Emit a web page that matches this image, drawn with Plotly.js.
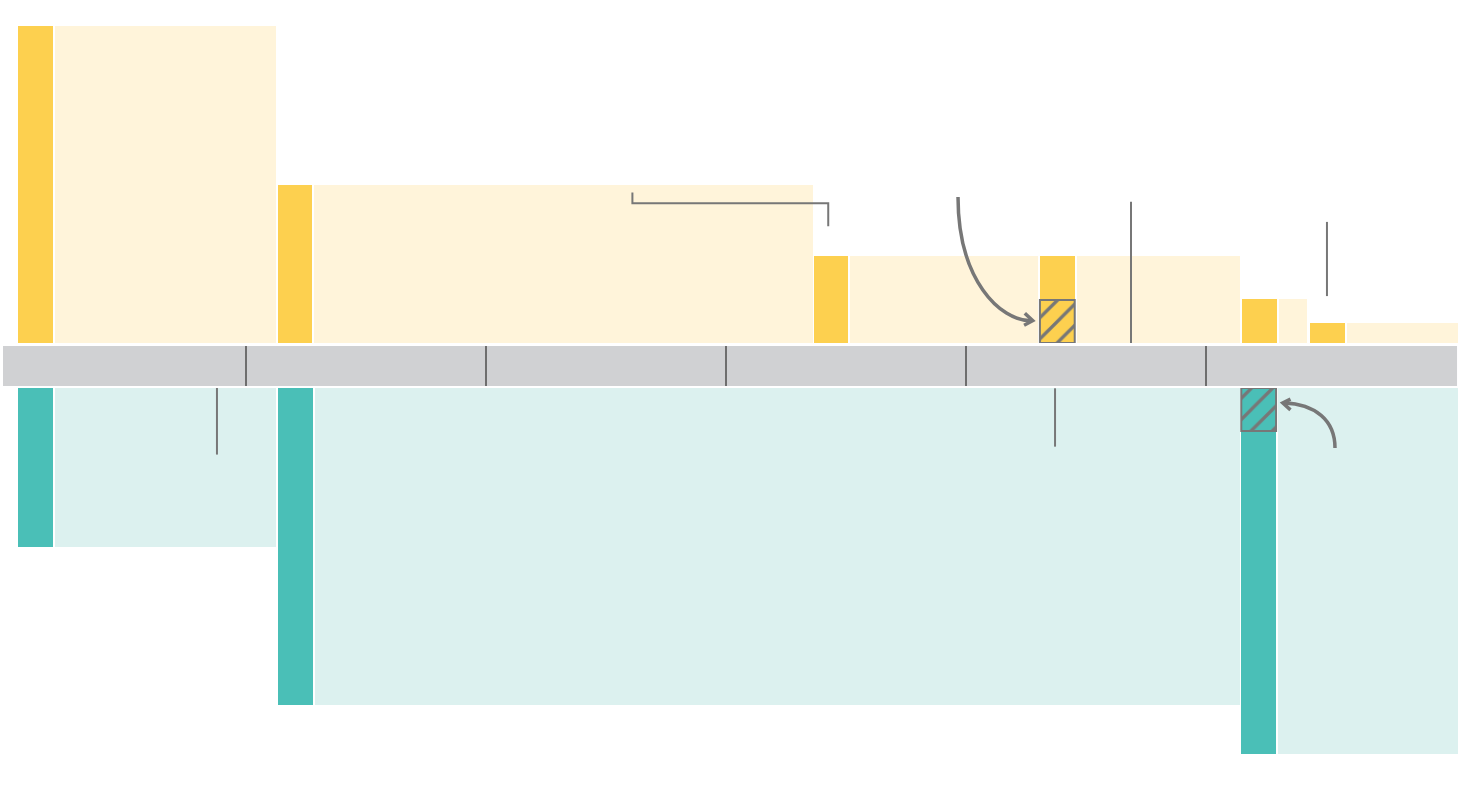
<!DOCTYPE html>
<html>
<head>
<meta charset="utf-8">
<script src="https://cdn.plot.ly/plotly-3.0.1.min.js"></script>
<style>html,body{margin:0;padding:0;background:#fff;}#chart{width:1460px;height:792px;}</style>
</head>
<body>
<div id="chart"></div>
<script>
// ---- data (x in axis units, ticks every 10; heights scaled so the tallest top bar = 100) ----
const tickValues = [10, 20, 30, 40, 50];
const axisStart = -0.125;
const axisEnd = 60.46;

const topStart = [0.5, 11.32, 33.65, 43.08, 51.5, 54.33];
const topEnd = [11.24, 33.61, 42.99, 51.42, 54.21, 60.5];
const topValues = [100, 50, 27.4, 27.4, 13.9, 6.3];
const topHatched = [0, 0, 0, 13.6, 0, 0];

const bottomStart = [0.5, 11.33, 51.47];
const bottomEnd = [11.24, 51.42, 60.49];
const bottomValues = [50, 100, 115.5];
const bottomHatched = [0, 0, 13.6];

// ---- styles ----
const DARK_W = 1.45, GAP = 0.08;
const YEL = '#FDD04F', YEL_L = '#FFF4DA', TEAL = '#4ABFB7', TEAL_L = '#DCF1EF';
const GREY = '#777777';

function darkBars(starts, vals, yaxis, color) {
  return {type: 'bar', xaxis: 'x', yaxis: yaxis,
    x: starts.map(s => s + DARK_W / 2), width: starts.map(() => DARK_W),
    y: vals, base: vals.map(() => 0),
    marker: {color: color, line: {width: 0}}, hoverinfo: 'skip', showlegend: false};
}
function lightBars(starts, ends, vals, yaxis, color) {
  const x0 = starts.map(s => s + DARK_W + GAP);
  return {type: 'bar', xaxis: 'x', yaxis: yaxis,
    x: x0.map((a, i) => (a + ends[i]) / 2), width: x0.map((a, i) => ends[i] - a),
    y: vals, base: vals.map(() => 0),
    marker: {color: color, line: {width: 0}}, hoverinfo: 'skip', showlegend: false};
}
function hatchBars(starts, hatched, yaxis, color) {
  const idx = hatched.map((h, i) => i).filter(i => hatched[i] > 0);
  return {type: 'bar', xaxis: 'x', yaxis: yaxis,
    x: idx.map(i => starts[i] + DARK_W / 2), width: idx.map(() => DARK_W),
    y: idx.map(i => hatched[i]), base: idx.map(() => 0),
    marker: {color: color, line: {color: GREY, width: 2},
      pattern: {shape: '/', fgcolor: GREY, bgcolor: color, size: 15, solidity: 0.22}},
    hoverinfo: 'skip', showlegend: false};
}

const traces = [
  lightBars(topStart, topEnd, topValues, 'y', YEL_L),
  darkBars(topStart, topValues, 'y', YEL),
  hatchBars(topStart, topHatched, 'y', YEL),
  lightBars(bottomStart, bottomEnd, bottomValues, 'y2', TEAL_L),
  darkBars(bottomStart, bottomValues, 'y2', TEAL),
  hatchBars(bottomStart, bottomHatched, 'y2', TEAL)
];

const H = 792;
const lineStyle = {color: GREY, width: 2};
const arrowStyle = {color: GREY, width: 3.5};
const shapes = [
  {type: 'rect', xref: 'x', yref: 'paper', x0: axisStart, x1: axisEnd,
   y0: 1 - 386 / H, y1: 1 - 346 / H, fillcolor: '#D0D1D3', line: {width: 0}, layer: 'below'},
  // guide lines / annotations (no text in the reference)
  {type: 'line', xref: 'x', yref: 'y2', x0: 8.79, x1: 8.79, y0: 0, y1: 21.0, line: lineStyle},
  {type: 'path', xref: 'x', yref: 'y', path: 'M 26.1 47.5 V 44.07 H 34.26 V 36.8', line: lineStyle},
  {type: 'path', xref: 'x', yref: 'y', path: 'M 39.667 46.06 C 39.667 19.87 41.417 7.03 42.7 7.03', line: arrowStyle},
  {type: 'path', xref: 'x', yref: 'y', path: 'M 42.45 9.4 L 42.78 7.03 L 42.42 5.6', line: arrowStyle},
  {type: 'line', xref: 'x', yref: 'y', x0: 46.875, x1: 46.875, y0: 44.57, y1: -0.4, line: lineStyle},
  {type: 'line', xref: 'x', yref: 'y', x0: 55.04, x1: 55.04, y0: 38.2, y1: 14.8, line: lineStyle},
  {type: 'line', xref: 'x', yref: 'y2', x0: 43.71, x1: 43.71, y0: 0.1, y1: 18.5, line: lineStyle},
  {type: 'path', xref: 'x', yref: 'y2', path: 'M 55.375 18.93 C 55.375 10.09 54.54 5.05 53.25 4.73', line: arrowStyle},
  {type: 'path', xref: 'x', yref: 'y2', path: 'M 53.52 3.5 L 53.2 4.73 L 53.52 6.9', line: arrowStyle}
];

const layout = {
  width: 1460, height: H,
  margin: {l: 0, r: 0, t: 0, b: 0, pad: 0},
  paper_bgcolor: '#ffffff', plot_bgcolor: 'rgba(0,0,0,0)',
  barmode: 'overlay', bargap: 0,
  showlegend: false,
  xaxis: {range: [-0.25, 60.5833], anchor: 'free', position: 1 - 386 / H,
    showgrid: false, zeroline: false, showline: false,
    tickmode: 'array', tickvals: tickValues, ticks: 'inside', ticklen: 40,
    tickwidth: 2, tickcolor: '#6E6E6E', showticklabels: false, fixedrange: true},
  yaxis: {domain: [1 - 343 / H, 1], range: [0, 343 / 3.17],
    visible: false, showgrid: false, zeroline: false, fixedrange: true},
  yaxis2: {domain: [0, 1 - 388 / H], range: [404 / 3.17, 0],
    visible: false, showgrid: false, zeroline: false, fixedrange: true},
  shapes: shapes
};

Plotly.newPlot('chart', traces, layout, {displayModeBar: false, staticPlot: true});
</script>
</body>
</html>
